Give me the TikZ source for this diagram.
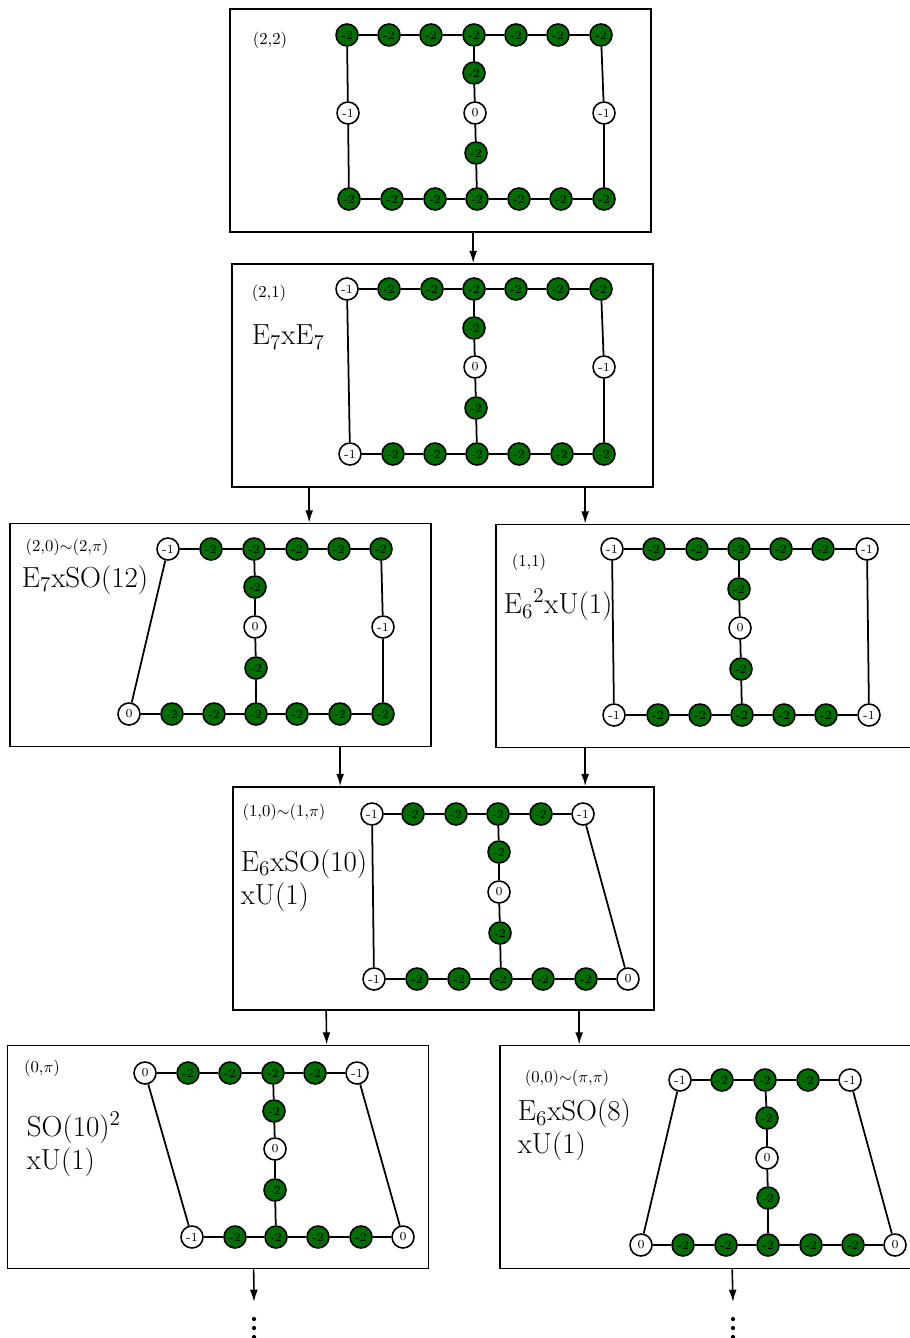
\documentclass[tikz,border=0pt]{standalone}
\usepackage{amsmath}
\usepackage{xcolor}
\usetikzlibrary{positioning,calc,arrows.meta}
\definecolor{dgreen}{RGB}{0,110,0}
\tikzstyle{nod}=[circle, draw, line width=0.9pt, inner sep=0pt, minimum size=0.44cm, font=\fontsize{7}{7}\selectfont]
\tikzstyle{gn}=[nod, fill=dgreen]
\tikzstyle{wn}=[nod, fill=white]
\tikzstyle{panel}=[draw, line width=1pt, minimum width=8.42cm, minimum height=4.46cm, inner sep=0pt]
\tikzstyle{tag}=[font=\fontsize{9.5}{10}\selectfont, inner sep=0pt]
\tikzstyle{grp}=[font=\fontsize{16.5}{19}\selectfont, align=left, inner sep=0pt, anchor=west]
\tikzstyle{arr}=[-{Latex[length=7pt,width=4.5pt]}, line width=0.9pt]

\begin{document}
\begin{tikzpicture}[x=0.02cm, y=-0.02cm, line width=1pt]
\useasboundingbox (0,0) rectangle (909,1338);

% (2,2)
\node[panel] (A) at (440.5,120.5) {};
\node[tag] at (270,40) {(2,2)};
\foreach \x/\st/\lab [count=\i] in {347/gn/-2,389/gn/-2,431/gn/-2,474/gn/-2,516/gn/-2,558/gn/-2,601/gn/-2}
	\node[\st] (At\i) at (\x,35) {\lab};
\foreach \x/\st/\lab [count=\i] in {349/gn/-2,392/gn/-2,435/gn/-2,477/gn/-2,519/gn/-2,561/gn/-2,604/gn/-2}
	\node[\st] (Ab\i) at (\x,199) {\lab};
\node[gn] (Am1) at (474,73) {-2};
\node[wn] (Am2) at (475,113) {0};
\node[gn] (Am3) at (476,153) {-2};
\node[wn] (Al) at (348,113) {-1};
\node[wn] (Ar) at (604,113) {-1};
\draw (At1) -- (At2) -- (At3) -- (At4) -- (At5) -- (At6) -- (At7);
\draw (Ab1) -- (Ab2) -- (Ab3) -- (Ab4) -- (Ab5) -- (Ab6) -- (Ab7);
\draw (At4) -- (Am1) -- (Am2) -- (Am3) -- (Ab4);
\draw (At1) -- (Al) -- (Ab1);
\draw (At7) -- (Ar) -- (Ab7);

% (2,1)
\node[panel] (B) at (442.5,375.5) {};
\node[tag] at (269,293) {(2,1)};
\node[grp] at (251,337) {E$_7$xE$_7$};
\foreach \x/\st/\lab [count=\i] in {347/wn/-1,389/gn/-2,432/gn/-2,474/gn/-2,516/gn/-2,558/gn/-2,601/gn/-2}
	\node[\st] (Bt\i) at (\x,289) {\lab};
\foreach \x/\st/\lab [count=\i] in {350/wn/-1,393/gn/-2,435/gn/-2,477/gn/-2,519/gn/-2,562/gn/-2,604/gn/-2}
	\node[\st] (Bb\i) at (\x,454) {\lab};
\node[gn] (Bm1) at (474,328) {-2};
\node[wn] (Bm2) at (475,367) {0};
\node[gn] (Bm3) at (476,408) {-2};
\node[wn] (Br) at (604,367) {-1};
\draw (Bt1) -- (Bt2) -- (Bt3) -- (Bt4) -- (Bt5) -- (Bt6) -- (Bt7);
\draw (Bb1) -- (Bb2) -- (Bb3) -- (Bb4) -- (Bb5) -- (Bb6) -- (Bb7);
\draw (Bt4) -- (Bm1) -- (Bm2) -- (Bm3) -- (Bb4);
\draw (Bt1) -- (Bb1);
\draw (Bt7) -- (Br) -- (Bb7);

% (2,0)
\node[panel] (C) at (220.5,635) {};
\node[tag] at (67,547) {(2,0)$\sim$(2,$\pi$)};
\node[grp] at (21,580) {E$_7$xSO(12)};
\foreach \x/\st/\lab [count=\i] in {168/wn/-1,211/gn/-2,254/gn/-2,297/gn/-2,339/gn/-2,381/gn/-2}
	\node[\st] (Ct\i) at (\x,549) {\lab};
\foreach \x/\st/\lab [count=\i] in {129/wn/0,172/gn/-2,214/gn/-2,256/gn/-2,297/gn/-2,340/gn/-2,383/gn/-2}
	\node[\st] (Cb\i) at (\x,714) {\lab};
\node[gn] (Cm1) at (255,587) {-2};
\node[wn] (Cm2) at (255,627) {0};
\node[gn] (Cm3) at (256,668) {-2};
\node[wn] (Cr) at (383,627) {-1};
\draw (Ct1) -- (Ct2) -- (Ct3) -- (Ct4) -- (Ct5) -- (Ct6);
\draw (Cb1) -- (Cb2) -- (Cb3) -- (Cb4) -- (Cb5) -- (Cb6) -- (Cb7);
\draw (Ct3) -- (Cm1) -- (Cm2) -- (Cm3) -- (Cb4);
\draw (Ct1) -- (Cb1);
\draw (Ct6) -- (Cr) -- (Cb7);

% (1,1)
\node[panel] (D) at (706.5,636) {};
\node[tag] at (529,562) {(1,1)};
\node[grp] at (503,605) {E$_6{}^2$xU(1)};
\foreach \x/\st/\lab [count=\i] in {612/wn/-1,654/gn/-2,697/gn/-2,739/gn/-2,781/gn/-2,823/gn/-2,867/wn/-1}
	\node[\st] (Dt\i) at (\x,549) {\lab};
\foreach \x/\st/\lab [count=\i] in {614/wn/-1,658/gn/-2,700/gn/-2,742/gn/-2,784/gn/-2,826/gn/-2,869/wn/-1}
	\node[\st] (Db\i) at (\x,715) {\lab};
\node[gn] (Dm1) at (739,589) {-2};
\node[wn] (Dm2) at (740,628) {0};
\node[gn] (Dm3) at (741,669) {-2};
\draw (Dt1) -- (Dt2) -- (Dt3) -- (Dt4) -- (Dt5) -- (Dt6) -- (Dt7);
\draw (Db1) -- (Db2) -- (Db3) -- (Db4) -- (Db5) -- (Db6) -- (Db7);
\draw (Dt4) -- (Dm1) -- (Dm2) -- (Dm3) -- (Db4);
\draw (Dt1) -- (Db1);
\draw (Dt7) -- (Db7);

% (1,0)
\node[panel] (E) at (443.5,898.5) {};
\node[tag] at (284,812) {(1,0)$\sim$(1,$\pi$)};
\node[grp] at (240,880.5) {E$_6$xSO(10)\\xU(1)};
\foreach \x/\st/\lab [count=\i] in {372/wn/-1,413/gn/-2,456/gn/-2,498/gn/-2,541/gn/-2,583/wn/-1}
	\node[\st] (Et\i) at (\x,814) {\lab};
\foreach \x/\st/\lab [count=\i] in {374/wn/-1,417/gn/-2,459/gn/-2,501/gn/-2,543/gn/-2,586/gn/-2,628/wn/0}
	\node[\st] (Eb\i) at (\x,979) {\lab};
\node[gn] (Em1) at (499,852) {-2};
\node[wn] (Em2) at (499,892) {0};
\node[gn] (Em3) at (500,933) {-2};
\draw (Et1) -- (Et2) -- (Et3) -- (Et4) -- (Et5) -- (Et6);
\draw (Eb1) -- (Eb2) -- (Eb3) -- (Eb4) -- (Eb5) -- (Eb6) -- (Eb7);
\draw (Et4) -- (Em1) -- (Em2) -- (Em3) -- (Eb4);
\draw (Et1) -- (Eb1);
\draw (Et6) -- (Eb7);

% (0,pi)
\node[panel] (F) at (218,1157) {};
\node[tag] at (42,1068) {(0,$\pi$)};
\node[grp] at (26,1144.5) {SO(10)$^2$\\xU(1)};
\foreach \x/\st/\lab [count=\i] in {145/wn/0,188/gn/-2,230/gn/-2,273/gn/-2,315/gn/-2,357/wn/-1}
	\node[\st] (Ft\i) at (\x,1073) {\lab};
\foreach \x/\st/\lab [count=\i] in {192/wn/-1,235/gn/-2,276/gn/-2,318/gn/-2,361/gn/-2,403/wn/0}
	\node[\st] (Fb\i) at (\x,1237) {\lab};
\node[gn] (Fm1) at (274,1111) {-2};
\node[wn] (Fm2) at (275,1149) {0};
\node[gn] (Fm3) at (275,1190) {-2};
\draw (Ft1) -- (Ft2) -- (Ft3) -- (Ft4) -- (Ft5) -- (Ft6);
\draw (Fb1) -- (Fb2) -- (Fb3) -- (Fb4) -- (Fb5) -- (Fb6);
\draw (Ft4) -- (Fm1) -- (Fm2) -- (Fm3) -- (Fb3);
\draw (Ft1) -- (Fb1);
\draw (Ft6) -- (Fb6);

% (0,0)
\node[panel] (G) at (710.5,1157) {};
\node[tag] at (567,1078) {(0,0)$\sim$($\pi$,$\pi$)};
\node[grp] at (517,1130) {E$_6$xSO(8)\\xU(1)};
\foreach \x/\st/\lab [count=\i] in {680/wn/-1,722/gn/-2,765/gn/-2,808/gn/-2,850/wn/-1}
	\node[\st] (Gt\i) at (\x,1080) {\lab};
\foreach \x/\st/\lab [count=\i] in {641/wn/0,683/gn/-2,726/gn/-2,768/gn/-2,811/gn/-2,853/gn/-2,895/wn/0}
	\node[\st] (Gb\i) at (\x,1245) {\lab};
\node[gn] (Gm1) at (767,1118) {-2};
\node[wn] (Gm2) at (767,1158) {0};
\node[gn] (Gm3) at (768,1198) {-2};
\draw (Gt1) -- (Gt2) -- (Gt3) -- (Gt4) -- (Gt5);
\draw (Gb1) -- (Gb2) -- (Gb3) -- (Gb4) -- (Gb5) -- (Gb6) -- (Gb7);
\draw (Gt3) -- (Gm1) -- (Gm2) -- (Gm3) -- (Gb4);
\draw (Gt1) -- (Gb1);
\draw (Gt5) -- (Gb7);

% arrows
\draw[arr] ($(A.south west)+(244,0)$) -- ($(B.north west)+(242,0)$);
\draw[arr] ($(B.south west)+(78,0)$) -- ($(C.north west)+(300,0)$);
\draw[arr] ($(B.south west)+(354,0)$) -- ($(D.north west)+(90,0)$);
\draw[arr] ($(C.south west)+(331,0)$) -- ($(E.north west)+(108,0)$);
\draw[arr] ($(D.south west)+(90,0)$) -- ($(E.north west)+(353,0)$);
\draw[arr] ($(E.south west)+(94,0)$) -- ($(F.north west)+(320,0)$);
\draw[arr] ($(E.south west)+(347,0)$) -- ($(G.north west)+(80,0)$);
\coordinate (Fend) at (254,1302);
\coordinate (Gend) at (733,1302);
\draw[arr] ($(F.south west)+(247,0)$) -- (Fend);
\draw[arr] ($(G.south west)+(233,0)$) -- (Gend);
\foreach \y in {1319,1328,1337} {
	\fill (254,\y) circle[radius=1.2pt];
	\fill (733,\y) circle[radius=1.2pt];
}
\end{tikzpicture}
\end{document}
